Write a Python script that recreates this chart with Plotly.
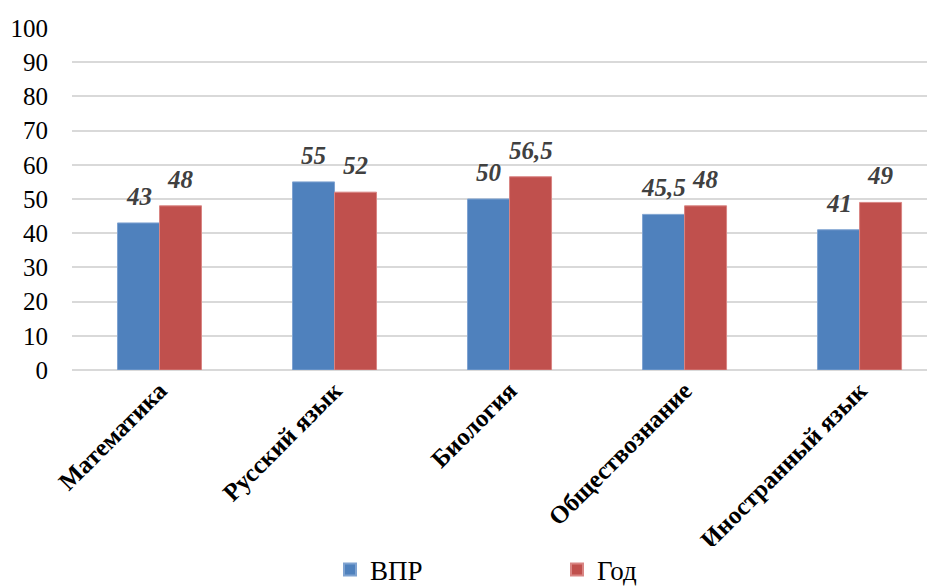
import plotly.graph_objects as go

categories = ["Математика", "Русский язык", "Биология", "Обществознание", "Иностранный язык"]
vpr = [43, 55, 50, 45.5, 41]
god = [48, 52, 56.5, 48, 49]
series_names = ["ВПР", "Год"]
colors = ["#4F81BD", "#C0504D"]
edge_colors = ["#7FA3D1", "#D98583"]
y_ticks = list(range(0, 101, 10))

def fmt(v):
    return (("%g" % v)).replace(".", ",")

FONT = "Liberation Serif"

fig = go.Figure()
for name, vals, c, ec in zip(series_names, [vpr, god], colors, edge_colors):
    fig.add_trace(go.Bar(
        x=categories, y=vals, name=name,
        marker=dict(color=c, line=dict(color=ec, width=1)),
    ))

annotations = []
for i, (vals, shift) in enumerate(zip([vpr, god], [-21, 21])):
    for cat, v in zip(categories, vals):
        annotations.append(dict(
            x=cat, y=v, xref="x", yref="y", text="<b><i>%s</i></b>" % fmt(v),
            showarrow=False, yanchor="bottom", xanchor="center",
            xshift=shift, yshift=11,
            font=dict(family=FONT, size=25, color="#404040"),
        ))

fig.update_layout(
    width=927, height=578,
    margin=dict(l=64, r=0, t=20, b=216, autoexpand=False),
    paper_bgcolor="white", plot_bgcolor="white",
    barmode="group", bargap=0.52, bargroupgap=0,
    separators=", ",
    font=dict(family=FONT, color="black"),
    showlegend=True,
    legend=dict(orientation="h", x=0.562, xanchor="center", y=-0.585, yanchor="middle",
                font=dict(family=FONT, size=27, color="black"),
                entrywidth=182, entrywidthmode="pixels", itemsizing="constant"),
    annotations=annotations,
)
fig.update_xaxes(
    range=[-0.5, 4.431], tickangle=-45, showgrid=False, showline=False,
    tickfont=dict(family=FONT, size=25, color="black", weight="bold"),
    ticks="",
)
fig.update_yaxes(
    range=[0, 100], tickvals=y_ticks, showgrid=True, gridcolor="#D9D9D9", gridwidth=1.5,
    zeroline=True, zerolinecolor="#D9D9D9", zerolinewidth=1.5,
    tickfont=dict(family=FONT, size=25, color="black"),
    ticklabelstandoff=23, showline=False,
)

fig.write_html("out.html")
